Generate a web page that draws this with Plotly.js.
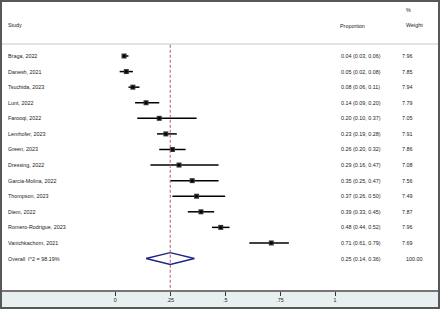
<!DOCTYPE html>
<html>
<head>
<meta charset="utf-8">
<script src="https://cdn.plot.ly/plotly-3.0.1.min.js"></script>
<style>
html,body{margin:0;padding:0;background:#fff;}
#chart{width:436px;height:305px;border:2px solid #585858;}
</style>
</head>
<body>
<div id="chart"></div>
<script>
const studies = ["Braga, 2022","Danesh, 2021","Tsuchida, 2023","Lunt, 2022","Farooqi, 2022","Lemhofer, 2023","Green, 2023","Dressing, 2022","Garcia-Molina, 2022","Thompson, 2023","Diem, 2022","Romero-Rodrigue, 2023","Vanichkachorn, 2021"];
const est   = [0.04,0.05,0.08,0.14,0.20,0.23,0.26,0.29,0.35,0.37,0.39,0.48,0.71];
const lower = [0.03,0.02,0.06,0.09,0.10,0.19,0.20,0.16,0.25,0.26,0.33,0.44,0.61];
const upper = [0.06,0.08,0.11,0.20,0.37,0.28,0.32,0.47,0.47,0.50,0.45,0.52,0.79];
const weights = ["7.96","7.85","7.94","7.79","7.05","7.91","7.86","7.08","7.56","7.49","7.87","7.96","7.69"];
const overallLabel = "Overall  I^2 = 98.19%";
const overallEst = 0.25, overallLo = 0.14, overallHi = 0.36;
const overallWeight = "100.00";
const tickVals = [0, 0.25, 0.5, 0.75, 1];
const tickText = ["0", ".25", ".5", ".75", "1"];

const n = studies.length;
const rowY = studies.map((_, i) => -i);
const overallY = -n;
const fmt = v => v.toFixed(2);
const ciText = (e, l, h) => fmt(e) + " (" + fmt(l) + ", " + fmt(h) + ")";

const FONT = "Liberation Sans, Arial, sans-serif";
const tf = {family: FONT, size: 5.4, color: "#222"};

const traces = [
  {
    type: "scatter", mode: "markers", x: est, y: rowY,
    marker: {symbol: "square", size: 5, color: "#333"},
    error_x: {type: "data", symmetric: false,
      array: est.map((e, i) => upper[i] - e),
      arrayminus: est.map((e, i) => e - lower[i]),
      color: "#000", thickness: 1.5, width: 0},
    hoverinfo: "skip", showlegend: false
  },
  {
    type: "scatter", mode: "markers", x: est, y: rowY,
    marker: {symbol: "circle", size: 3, color: "#000"},
    hoverinfo: "skip", showlegend: false
  },
  {
    type: "scatter", mode: "lines",
    x: [overallLo, overallEst, overallHi, overallEst, overallLo],
    y: [overallY, overallY + 0.38, overallY, overallY - 0.38, overallY],
    line: {color: "#1c2585", width: 1.4},
    hoverinfo: "skip", showlegend: false
  }
];

const ann = [];
const addText = (text, xp, y, anchor, font) => ann.push({
  text: text, xref: "paper", yref: "y", x: xp, y: y,
  xanchor: anchor || "left", yanchor: "middle", showarrow: false,
  font: font || tf
});
const px = p => p / 436;
addText("Study", px(4), 2.0);
addText("Proportion", px(336), 1.9);
addText("%", px(402), 2.95);
addText("Weight", px(401.5), 2.0);
studies.forEach((s, i) => {
  addText(s, px(4), rowY[i]);
  addText(ciText(est[i], lower[i], upper[i]), px(336.5), rowY[i]);
  addText(weights[i], px(397.5), rowY[i]);
});
addText(overallLabel, px(4), overallY);
addText(ciText(overallEst, overallLo, overallHi), px(336.5), overallY);
addText(overallWeight, px(401.5), overallY);

const yHi = 3.466, yLo = -15.019;

const layout = {
  width: 436, height: 305,
  margin: {l: 0, r: 0, t: 0, b: 17, pad: 0},
  paper_bgcolor: "#e8eff1",
  plot_bgcolor: "#ffffff",
  showlegend: false,
  xaxis: {
    range: [-0.5157, 1.4688], fixedrange: true,
    showgrid: false, zeroline: false,
    showline: true, linecolor: "#767676", linewidth: 1.6,
    ticks: "outside", ticklen: 4, tickwidth: 1, tickcolor: "#333",
    tickvals: tickVals, ticktext: tickText,
    tickfont: {family: FONT, size: 5.4, color: "#222"}
  },
  yaxis: {
    range: [yLo, yHi], fixedrange: true,
    visible: false, showgrid: false, zeroline: false
  },
  shapes: [
    {type: "line", xref: "paper", yref: "y", x0: 0, x1: 1, y0: 0.77, y1: 0.77,
     line: {color: "#c8c8c8", width: 1}},
    {type: "line", xref: "x", yref: "y", x0: overallEst, x1: overallEst, y0: 0.72, y1: yLo,
     line: {color: "#a86060", width: 1, dash: "3px,2px"}}
  ],
  annotations: ann,
  font: {family: FONT}
};

Plotly.newPlot("chart", traces, layout, {staticPlot: true, displayModeBar: false});
</script>
</body>
</html>
